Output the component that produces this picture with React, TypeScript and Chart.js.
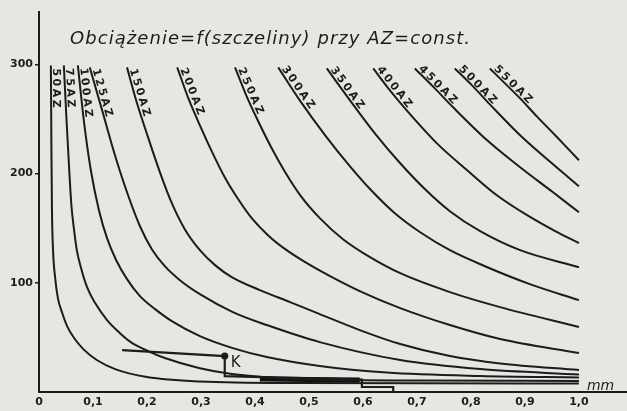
import React, { useEffect, useRef } from 'react';
import { Chart, registerables } from 'chart.js';

Chart.register(...registerables);

const INK = '#1c1c1c';
const PAPER = '#e6e6e3';

const titleText = 'Obciążenie=f(szczeliny) przy AZ=const.';
const axisUnit = 'mm';
const pointName = 'K';

const azNames = ['50AZ', '75AZ', '100AZ', '125AZ', '150AZ', '200AZ', '250AZ', '300AZ', '350AZ', '400AZ', '450AZ', '500AZ', '550AZ'];

// gap [mm] and load values, one pair of arrays per curve
const gap50 = [0.022, 0.023, 0.024, 0.026, 0.030, 0.035, 0.043, 0.052, 0.065, 0.082, 0.107, 0.141, 0.200, 0.298, 0.483, 1.0];
const load50 = [299.1, 221.3, 166.5, 129.9, 104.3, 86.0, 72.3, 60.4, 49.4, 39.3, 29.3, 21.0, 13.7, 9.6, 8.2, 7.8];

const gap75 = [0.046, 0.051, 0.056, 0.060, 0.065, 0.070, 0.078, 0.089, 0.104, 0.126, 0.150, 0.170, 0.202, 0.233, 0.296, 0.357, 0.483, 0.706, 1.0];
const load75 = [299.1, 248.8, 203.1, 171.0, 148.2, 129.9, 113.4, 96.0, 81.4, 65.9, 53.9, 45.7, 37.5, 31.1, 22.0, 16.5, 11.9, 10.5, 10.1];

const gap100 = [0.072, 0.083, 0.096, 0.111, 0.126, 0.143, 0.163, 0.187, 0.215, 0.246, 0.298, 0.359, 0.422, 0.520, 0.644, 0.817, 1.0];
const load100 = [299.1, 248.8, 203.1, 166.5, 140.9, 120.7, 103.4, 87.8, 75.9, 64.9, 51.2, 40.2, 32.0, 23.8, 17.8, 14.6, 13.3];

const gap125 = [0.094, 0.117, 0.139, 0.163, 0.187, 0.209, 0.233, 0.261, 0.298, 0.359, 0.422, 0.520, 0.669, 0.817, 1.0];
const load125 = [297.3, 257.9, 219.5, 182.9, 151.8, 130.8, 115.2, 102.4, 89.6, 73.2, 61.3, 45.7, 29.3, 21.0, 16.0];

const gap150 = [0.163, 0.181, 0.202, 0.224, 0.246, 0.270, 0.298, 0.326, 0.357, 0.409, 0.465, 0.520, 0.594, 0.669, 0.761, 0.854, 1.0];
const load150 = [297.3, 265.3, 233.2, 201.2, 172.9, 149.1, 129.9, 116.2, 105.2, 93.3, 82.3, 71.3, 56.7, 43.9, 32.9, 26.1, 20.1];

const gap200 = [0.256, 0.276, 0.298, 0.320, 0.344, 0.369, 0.394, 0.424, 0.456, 0.493, 0.539, 0.594, 0.669, 0.761, 0.854, 1.0];
const load200 = [297.3, 269.8, 244.2, 220.4, 196.7, 176.5, 159.2, 143.6, 130.8, 118.9, 106.1, 92.4, 76.8, 61.3, 48.5, 35.7];

const gap250 = [0.363, 0.383, 0.406, 0.430, 0.456, 0.485, 0.520, 0.563, 0.613, 0.669, 0.761, 0.854, 1.0];
const load250 = [297.3, 272.6, 247.9, 224.1, 201.2, 179.3, 159.2, 139.9, 123.5, 108.8, 91.5, 77.7, 59.5];

const gap300 = [0.443, 0.483, 0.530, 0.576, 0.617, 0.659, 0.706, 0.761, 0.826, 0.909, 1.0];
const load300 = [297.3, 267.1, 235.1, 206.7, 183.8, 163.7, 146.3, 129.9, 115.2, 98.8, 84.1];

const gap350 = [0.533, 0.576, 0.622, 0.669, 0.715, 0.761, 0.817, 0.891, 1.0];
const load350 = [296.3, 267.1, 236.9, 209.5, 185.7, 165.6, 147.3, 129.9, 114.3];

const gap400 = [0.619, 0.650, 0.681, 0.737, 0.793, 0.848, 0.904, 0.956, 1.0];
const load400 = [296.3, 276.2, 257.9, 227.7, 203.1, 180.2, 161.9, 147.3, 136.3];

const gap450 = [0.696, 0.733, 0.767, 0.830, 0.891, 0.952, 1.0];
const load450 = [296.3, 278.1, 260.7, 230.5, 205.8, 182.9, 164.6];

const gap500 = [0.770, 0.802, 0.835, 0.891, 0.952, 1.0];
const load500 = [296.3, 280.8, 263.4, 235.1, 208.5, 188.4];

const gap550 = [0.835, 0.863, 0.891, 0.922, 0.956, 1.0];
const load550 = [296.3, 282.6, 268.9, 252.4, 235.1, 212.2];

// operating line with point K
const gapK = [0.154, 0.344, 0.344, 0.598, 0.598, 0.656, 0.656];
const loadK = [38.4, 32.9, 14.6, 11.4, 4.6, 4.6, 0.9];
const gapBand = [0.409, 0.594];
const loadBand = [11.9, 11.0];

const xTickValues = [0, 0.1, 0.2, 0.3, 0.4, 0.5, 0.6, 0.7, 0.8, 0.9, 1.0];
const xTickLabels = ['0', '0,1', '0,2', '0,3', '0,4', '0,5', '0,6', '0,7', '0,8', '0,9', '1,0'];
const yTickValues = [100, 200, 300];
const yTickLabels = ['100', '200', '300'];

const curveGaps = [gap50, gap75, gap100, gap125, gap150, gap200, gap250, gap300, gap350, gap400, gap450, gap500, gap550];
const curveLoads = [load50, load75, load100, load125, load150, load200, load250, load300, load350, load400, load450, load500, load550];

const toPoints = (xs: number[], ys: number[]) => xs.map((x, i) => ({ x, y: ys[i] }));

const paperPlugin = {
  id: 'paper',
  beforeDraw(chart: any) {
    const { ctx, width, height } = chart;
    ctx.save();
    ctx.fillStyle = PAPER;
    ctx.fillRect(0, 0, width, height);
    ctx.restore();
  },
};

const annotationsPlugin = {
  id: 'annotations',
  afterDatasetsDraw(chart: any) {
    const ctx = chart.ctx;
    ctx.save();
    ctx.fillStyle = INK;

    // curve labels, written along each curve from its upper end
    ctx.font = 'bold 11px "DejaVu Sans"';
    ctx.textBaseline = 'alphabetic';
    azNames.forEach((name, di) => {
      const pts = chart.getDatasetMeta(di).data;
      if (!pts || !pts.length) return;
      const p0 = pts[0];
      let pk = pts[pts.length - 1];
      for (let k = 1; k < pts.length; k++) {
        if (Math.hypot(pts[k].x - p0.x, pts[k].y - p0.y) >= 40) {
          pk = pts[k];
          break;
        }
      }
      const ang = Math.atan2(pk.y - p0.y, pk.x - p0.x);
      ctx.save();
      ctx.translate(p0.x, p0.y);
      ctx.rotate(ang);
      let d = 3;
      for (const ch of name) {
        ctx.fillText(ch, d, -2);
        d += ctx.measureText(ch).width + 2.5;
      }
      ctx.restore();
    });

    // title, stretched a little like the hand lettering
    ctx.font = 'italic 18px "DejaVu Sans"';
    const chars = Array.from(titleText);
    const natural = ctx.measureText(titleText).width;
    const target = 400;
    const spacing = (target - natural) / (chars.length - 1);
    let tx = 70;
    for (const ch of chars) {
      ctx.fillText(ch, tx, 44);
      tx += ctx.measureText(ch).width + spacing;
    }

    // unit label
    const xs = chart.scales.x;
    const ys = chart.scales.y;
    ctx.font = 'italic 14px "DejaVu Sans"';
    ctx.fillText(axisUnit, xs.getPixelForValue(1.0) + 8, chart.chartArea.bottom - 2);

    // point K
    const kx = xs.getPixelForValue(gapK[1]);
    const ky = ys.getPixelForValue(loadK[1]);
    ctx.font = '15px "DejaVu Sans"';
    ctx.fillText(pointName, kx + 6, ky + 11);

    ctx.restore();
  },
};

export default function App() {
  const ref = useRef<HTMLCanvasElement | null>(null);

  useEffect(() => {
    if (!ref.current) return;
    const curveSets = curveGaps.map((g, i) => ({
      label: azNames[i],
      data: toPoints(g, curveLoads[i]),
      borderColor: INK,
      borderWidth: 2,
      pointRadius: 0,
      fill: false,
      cubicInterpolationMode: 'monotone' as const,
    }));
    const chart = new Chart(ref.current, {
      type: 'line',
      data: {
        datasets: [
          ...curveSets,
          {
            label: 'K',
            data: toPoints(gapK, loadK),
            borderColor: INK,
            backgroundColor: INK,
            borderWidth: 2.2,
            tension: 0,
            pointRadius: loadK.map((_, i) => (i === 1 ? 2.5 : 0)),
            fill: false,
          },
          {
            label: 'band',
            data: toPoints(gapBand, loadBand),
            borderColor: '#111',
            borderWidth: 5,
            tension: 0,
            pointRadius: 0,
            fill: false,
          },
        ] as any,
      },
      options: {
        animation: false,
        responsive: true,
        maintainAspectRatio: false,
        layout: { padding: { top: 12, left: 0, right: 0, bottom: 0 } },
        plugins: {
          legend: { display: false },
          tooltip: { enabled: false },
          title: { display: false },
        },
        scales: {
          x: {
            type: 'linear',
            min: 0,
            max: 1.089,
            afterBuildTicks: (s: any) => {
              s.ticks = xTickValues.map((v) => ({ value: v }));
            },
            afterFit: (s: any) => {
              s.height = 19;
            },
            ticks: {
              callback: (_v: any, i: number) => xTickLabels[i],
              color: INK,
              padding: 4,
              maxRotation: 0,
              autoSkip: false,
              font: { family: 'DejaVu Sans', size: 11, weight: 'bold' },
            },
            grid: { display: false, drawTicks: false, tickLength: 0 },
            border: { display: true, color: INK, width: 2 },
          },
          y: {
            type: 'linear',
            min: 0,
            max: 348,
            afterBuildTicks: (s: any) => {
              s.ticks = yTickValues.map((v) => ({ value: v }));
            },
            afterFit: (s: any) => {
              s.width = 39;
            },
            ticks: {
              callback: (_v: any, i: number) => yTickLabels[i],
              color: INK,
              padding: 2,
              font: { family: 'DejaVu Sans', size: 11, weight: 'bold' },
            },
            grid: {
              display: true,
              drawOnChartArea: false,
              drawTicks: true,
              tickLength: 4,
              color: INK,
              lineWidth: 1.5,
            },
            border: { display: true, color: INK, width: 2 },
          },
        },
      },
      plugins: [paperPlugin, annotationsPlugin],
    });
    return () => chart.destroy();
  }, []);

  return (
    <div style={{ position: 'fixed', left: 0, top: 0, width: 627, height: 411 }}>
      <canvas ref={ref} />
    </div>
  );
}
